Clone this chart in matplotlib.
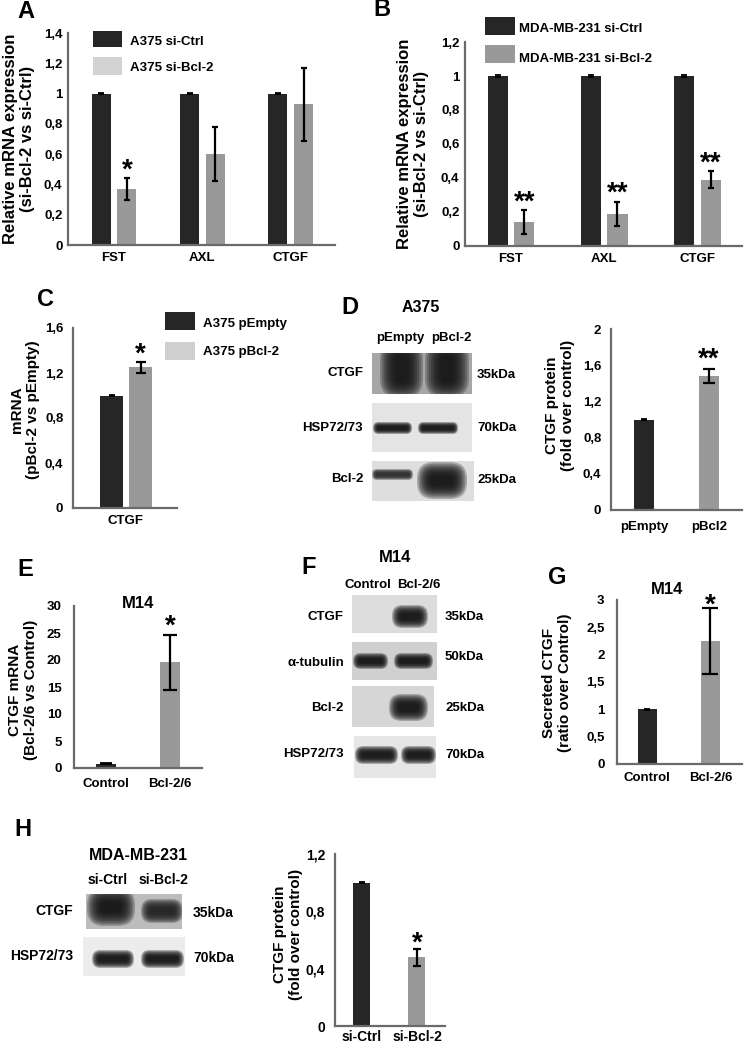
import matplotlib
matplotlib.use("Agg")
import matplotlib.pyplot as plt
from matplotlib.patches import Rectangle, FancyBboxPatch

plt.rcParams['font.family'] = ['Liberation Sans', 'DejaVu Sans']
plt.rcParams['font.weight'] = 'bold'

# ---------------- data ----------------
a_genes = ['FST', 'AXL', 'CTGF']
a_ctrl = [1.0, 1.0, 1.0]
a_ctrl_err = [0.003, 0.003, 0.003]
a_si = [0.37, 0.60, 0.93]
a_si_err = [0.075, 0.18, 0.24]
a_sig = ['*', '', '']

b_genes = ['FST', 'AXL', 'CTGF']
b_ctrl = [1.0, 1.0, 1.0]
b_ctrl_err = [0.003, 0.003, 0.003]
b_si = [0.14, 0.19, 0.39]
b_si_err = [0.07, 0.07, 0.05]
b_sig = ['**', '**', '**']

c_gene = ['CTGF']
c_empty = [1.0]
c_empty_err = [0.005]
c_bcl2 = [1.25]
c_bcl2_err = [0.05]
c_sig = ['*']

d_labels = ['pEmpty', 'pBcl2']
d_vals = [1.0, 1.48]
d_err = [0.01, 0.08]
d_sig = ['', '**']

e_labels = ['Control', 'Bcl-2/6']
e_vals = [0.8, 19.6]
e_err = [0.15, 5.1]
e_sig = ['', '*']

g_labels = ['Control', 'Bcl-2/6']
g_vals = [1.0, 2.25]
g_err = [0.01, 0.6]
g_sig = ['', '*']

h_labels = ['si-Ctrl', 'si-Bcl-2']
h_vals = [1.0, 0.48]
h_err = [0.005, 0.06]
h_sig = ['', '*']

# ---------------- style ----------------
W, H = 744, 1046
DARK = '#262626'
GRAY = '#999999'
LIGHT = '#d3d3d3'
SPINE = '#6a6a6a'
NARROW = ['Liberation Sans Narrow', 'Liberation Sans', 'DejaVu Sans']

fig = plt.figure(figsize=(W / 100, H / 100), dpi=100)
ov = fig.add_axes([0, 0, 1, 1])
ov.set_xlim(0, W)
ov.set_ylim(H, 0)
ov.axis('off')


def ax_px(x0, y0, x1, y1):
    a = fig.add_axes([x0 / W, 1 - y1 / H, (x1 - x0) / W, (y1 - y0) / H])
    a.set_facecolor('none')
    return a


def fmt(v):
    return ('%g' % v).replace('.', ',')


def style(ax, yticks, ylim, xlim, ypad, xpad, tfs=9.5, family=None):
    for s in ['top', 'right']:
        ax.spines[s].set_visible(False)
    for s in ['left', 'bottom']:
        ax.spines[s].set_color(SPINE)
        ax.spines[s].set_linewidth(1.6)
    ax.set_ylim(*ylim)
    ax.set_xlim(*xlim)
    ax.set_yticks(yticks)
    ax.set_yticklabels([fmt(v) for v in yticks])
    ax.tick_params(axis='both', length=0, labelsize=tfs)
    ax.tick_params(axis='y', pad=ypad)
    ax.tick_params(axis='x', pad=xpad)
    for lab in ax.get_xticklabels() + ax.get_yticklabels():
        lab.set_fontweight('bold')
        if family:
            lab.set_family(family)


def ylab(ax, text, x_px, y_px, box, fs=11, family=None):
    x0, y0, x1, y1 = box
    ax.set_ylabel(text, fontsize=fs, fontweight='bold', linespacing=1.15,
                  va='center', ha='center',
                  family=family if family else plt.rcParams['font.family'])
    ax.yaxis.set_label_coords((x_px - x0) / (x1 - x0), (y1 - y_px) / (y1 - y0))


def stars(ax, xs, tops, sigs, offset_px, fs=20):
    for x, tp, s in zip(xs, tops, sigs):
        if s:
            ax.annotate(s, (x, tp), xytext=(0, offset_px * 0.72 - 0.58 * fs),
                        textcoords='offset points', ha='center', va='baseline',
                        fontsize=fs, fontweight='bold')


def soft_band(x0, y0, x1, y1, clip, color='#111111', layers=9, alpha=0.26):
    w, h = x1 - x0, y1 - y0
    step = min(w, h) * 0.045
    for i in range(layers):
        ins = i * step
        ww, hh = w - 2 * ins, h - 2 * ins
        r = max(min(ww, hh) * 0.45, 0.1)
        p = FancyBboxPatch((x0 + ins, y0 + ins), ww, hh,
                           boxstyle="round,pad=0,rounding_size=%f" % r,
                           fc=color, ec='none', alpha=alpha)
        ov.add_patch(p)
        p.set_clip_path(clip)


def blot(box, bg, bands):
    x0, y0, x1, y1 = box
    bgp = Rectangle((x0, y0), x1 - x0, y1 - y0, fc=bg, ec='none')
    ov.add_patch(bgp)
    for b in bands:
        col = b[4] if len(b) == 5 else '#111111'
        soft_band(*b[:4], clip=bgp, color=col)


def t(x, y, s, fs=9, ha='center', family=None):
    ov.text(x, y, s, fontsize=fs, fontweight='bold', ha=ha, va='center',
            family=family if family else plt.rcParams['font.family'])


def legend_box(x0, y0, x1, y1, color, label, tx, ty, fs=9.5):
    ov.add_patch(Rectangle((x0, y0), x1 - x0, y1 - y0, fc=color, ec='none'))
    t(tx, ty, label, fs=fs, ha='left')


# ---------------- Panel A ----------------
boxA = (68, 33, 335, 245)
axA = ax_px(*boxA)
xa = list(range(len(a_genes)))
bw = 0.215
axA.bar([x - 0.145 for x in xa], a_ctrl, bw, color=DARK, yerr=a_ctrl_err,
        capsize=2.5, error_kw=dict(lw=1.3, capthick=1.3, ecolor='black'))
axA.bar([x + 0.145 for x in xa], a_si, bw, color=GRAY, yerr=a_si_err,
        capsize=2.5, error_kw=dict(lw=1.6, capthick=1.6, ecolor='black'))
axA.set_xticks(xa)
axA.set_xticklabels(a_genes)
style(axA, [0, 0.2, 0.4, 0.6, 0.8, 1.0, 1.2, 1.4], (0, 1.4), (-0.52, 2.5), 4, 5)
ylab(axA, 'Relative mRNA expression\n(si-Bcl-2 vs si-Ctrl)', 19, 139, boxA, fs=12)
stars(axA, [x + 0.145 for x in xa], [v + e for v, e in zip(a_si, a_si_err)], a_sig, 16)
legend_box(93, 31, 122, 47, DARK, 'A375 si-Ctrl', 130, 42)
legend_box(93, 57, 122, 75, LIGHT, 'A375 si-Bcl-2', 130, 68)
t(26, 12, 'A', fs=17)

# ---------------- Panel B ----------------
boxB = (465, 42, 742, 246)
axB = ax_px(*boxB)
xb = list(range(len(b_genes)))
axB.bar([x - 0.14 for x in xb], b_ctrl, bw, color=DARK, yerr=b_ctrl_err,
        capsize=2.5, error_kw=dict(lw=1.3, capthick=1.3, ecolor='black'))
axB.bar([x + 0.145 for x in xb], b_si, bw, color=GRAY, yerr=b_si_err,
        capsize=2.5, error_kw=dict(lw=1.6, capthick=1.6, ecolor='black'))
axB.set_xticks(xb)
axB.set_xticklabels(b_genes)
style(axB, [0, 0.2, 0.4, 0.6, 0.8, 1.0, 1.2], (0, 1.2), (-0.49, 2.48), 4, 5)
ylab(axB, 'Relative mRNA expression\n(si-Bcl-2 vs si-Ctrl)', 413, 144, boxB, fs=12)
stars(axB, [x + 0.145 for x in xb], [v + e for v, e in zip(b_si, b_si_err)], b_sig, 17)
legend_box(485, 17, 515, 35, DARK, 'MDA-MB-231 si-Ctrl', 519, 29)
legend_box(485, 45, 515, 63, GRAY, 'MDA-MB-231 si-Bcl-2', 519, 59)
t(382, 10, 'B', fs=17)

# ---------------- Panel C ----------------
boxC = (73, 328, 177, 508)
axC = ax_px(*boxC)
axC.bar([-0.145], c_empty, 0.23, color=DARK, yerr=c_empty_err,
        capsize=2.5, error_kw=dict(lw=1.3, capthick=1.3, ecolor='black'))
axC.bar([0.145], c_bcl2, 0.23, color=GRAY, yerr=c_bcl2_err,
        capsize=3.5, error_kw=dict(lw=1.6, capthick=1.6, ecolor='black'))
axC.set_xticks([0])
axC.set_xticklabels(c_gene)
style(axC, [0, 0.4, 0.8, 1.2, 1.6], (0, 1.6), (-0.53, 0.51), 7, 5)
ylab(axC, 'mRNA\n(pBcl-2 vs pEmpty)', 25, 410, boxC, fs=11)
stars(axC, [0.145], [c_bcl2[0] + c_bcl2_err[0]], c_sig, 16)
legend_box(165, 312, 195, 330, DARK, 'A375 pEmpty', 203, 324)
legend_box(165, 342, 195, 360, '#d0d0d0', 'A375 pBcl-2', 203, 352)
t(45, 300, 'C', fs=17)

# ---------------- Panel D ----------------
t(350, 308, 'D', fs=17)
t(421, 307, 'A375', fs=11.5)
t(400, 338, 'pEmpty', fs=9.5)
t(451, 338, 'pBcl-2', fs=9.5)
blot((372, 353, 472, 394), '#a6a6a6',
     [(380, 340, 423, 398, '#141414'), (425, 340, 469, 398, '#141414')])
blot((372, 403, 472, 452), '#e4e4e4',
     [(373, 422, 412, 434), (418, 422, 458, 434)])
blot((372, 461, 474, 501), '#dedede',
     [(372, 469, 413, 480, '#2a2a2a'), (417, 462, 467, 499)])
for lab, y in zip(['CTGF', 'HSP72/73', 'Bcl-2'], [373, 428, 479]):
    t(363, y, lab, fs=9.5, ha='right')
for lab, y in zip(['35kDa', '70kDa', '25kDa'], [375, 428, 480]):
    t(477, y, lab, fs=9.5, ha='left')

boxD = (611, 329, 742, 510)
axD = ax_px(*boxD)
xd = list(range(len(d_labels)))
axD.bar(xd[:1], d_vals[:1], 0.31, color=DARK, yerr=d_err[:1], capsize=2.5,
        error_kw=dict(lw=1.3, capthick=1.3, ecolor='black'))
axD.bar(xd[1:], d_vals[1:], 0.31, color=GRAY, yerr=d_err[1:], capsize=4,
        error_kw=dict(lw=1.6, capthick=1.6, ecolor='black'))
axD.set_xticks(xd)
axD.set_xticklabels(d_labels)
style(axD, [0, 0.4, 0.8, 1.2, 1.6, 2.0], (0, 2.0), (-0.51, 1.51), 7, 8)
ylab(axD, 'CTGF protein\n(fold over control)', 560, 405, boxD, fs=11)
stars(axD, xd, [v + e for v, e in zip(d_vals, d_err)], d_sig, 18)

# ---------------- Panel E ----------------
t(25, 570, 'E', fs=17)
boxE = (74, 606, 202, 768)
axE = ax_px(*boxE)
xe = list(range(len(e_labels)))
axE.bar(xe[:1], e_vals[:1], 0.3, color=DARK, yerr=e_err[:1], capsize=4,
        error_kw=dict(lw=1.3, capthick=1.3, ecolor='black'))
axE.bar(xe[1:], e_vals[1:], 0.3, color=GRAY, yerr=e_err[1:], capsize=5,
        error_kw=dict(lw=1.6, capthick=1.6, ecolor='black'))
axE.set_xticks(xe)
axE.set_xticklabels(e_labels)
style(axE, [0, 5, 10, 15, 20, 25, 30], (0, 30), (-0.5, 1.5), 9, 7)
ylab(axE, 'CTGF mRNA\n(Bcl-2/6 vs Control)', 23, 690, boxE, fs=11)
stars(axE, xe, [v + e for v, e in zip(e_vals, e_err)], e_sig, 17)
t(138, 604, 'M14', fs=12)

# ---------------- Panel F ----------------
t(309, 568, 'F', fs=17)
t(395, 558, 'M14', fs=12)
t(368, 585, 'Control', fs=9.5)
t(419, 585, 'Bcl-2/6', fs=9.5)
blot((352, 595, 437, 633), '#dcdcdc', [(392, 605, 428, 628)])
blot((352, 642, 437, 680), '#d0d0d0', [(353, 653, 388, 669), (394, 653, 433, 669)])
blot((352, 686, 434, 727), '#d6d6d6', [(389, 694, 428, 721)])
blot((354, 736, 436, 778), '#e6e6e6', [(355, 746, 398, 764), (401, 746, 436, 764)])
for lab, y in zip(['CTGF', 'α-tubulin', 'Bcl-2', 'HSP72/73'], [617, 663, 708, 754]):
    t(344, y, lab, fs=9.5, ha='right')
for lab, y in zip(['35kDa', '50kDa', '25kDa', '70kDa'], [617, 657, 708, 755]):
    t(445, y, lab, fs=9.5, ha='left')

# ---------------- Panel G ----------------
t(557, 578, 'G', fs=17)
boxG = (617, 600, 742, 764)
axG = ax_px(*boxG)
xg = list(range(len(g_labels)))
axG.bar(xg[:1], g_vals[:1], 0.3, color=DARK, yerr=g_err[:1], capsize=2.5,
        error_kw=dict(lw=1.3, capthick=1.3, ecolor='black'))
axG.bar(xg[1:], g_vals[1:], 0.3, color=GRAY, yerr=g_err[1:], capsize=5.5,
        error_kw=dict(lw=1.6, capthick=1.6, ecolor='black'))
axG.set_xticks(xg)
axG.set_xticklabels(g_labels)
style(axG, [0, 0.5, 1.0, 1.5, 2.0, 2.5, 3.0], (0, 3.0), (-0.48, 1.5), 9, 6)
ylab(axG, 'Secreted CTGF\n(ratio over Control)', 557, 683, boxG, fs=11)
stars(axG, xg, [v + e for v, e in zip(g_vals, g_err)], g_sig, 12)
t(667, 590, 'M14', fs=12)

# ---------------- Panel H ----------------
t(23, 830, 'H', fs=17)
t(138, 855, 'MDA-MB-231', fs=11.5, family=NARROW)
t(108, 880, 'si-Ctrl', fs=10, family=NARROW)
t(163, 880, 'si-Bcl-2', fs=10, family=NARROW)
blot((86, 894, 182, 929), '#bcbcbc',
     [(87, 888, 135, 926, '#121212'), (141, 899, 183, 923, '#202020')])
blot((83, 937, 185, 976), '#ececec', [(92, 950, 134, 968), (141, 950, 184, 968)])
t(73, 911, 'CTGF', fs=10, ha='right', family=NARROW)
t(73, 956, 'HSP72/73', fs=10, ha='right', family=NARROW)
t(193, 913, '35kDa', fs=10, ha='left', family=NARROW)
t(193, 958, '70kDa', fs=10, ha='left', family=NARROW)

boxH = (335, 854, 445, 1026)
axH = ax_px(*boxH)
xh = list(range(len(h_labels)))
axH.bar(xh[:1], h_vals[:1], 0.31, color=DARK, yerr=h_err[:1], capsize=2.5,
        error_kw=dict(lw=1.3, capthick=1.3, ecolor='black'))
axH.bar(xh[1:], h_vals[1:], 0.31, color=GRAY, yerr=h_err[1:], capsize=3,
        error_kw=dict(lw=1.6, capthick=1.6, ecolor='black'))
axH.set_xticks(xh)
axH.set_xticklabels(h_labels)
style(axH, [0, 0.4, 0.8, 1.2], (0, 1.2), (-0.49, 1.51), 7, 3, tfs=10, family=NARROW)
ylab(axH, 'CTGF protein\n(fold over control)', 288, 934, boxH, fs=11)
stars(axH, xh, [v + e for v, e in zip(h_vals, h_err)], h_sig, 14)

fig.savefig('out.png', dpi=100)
